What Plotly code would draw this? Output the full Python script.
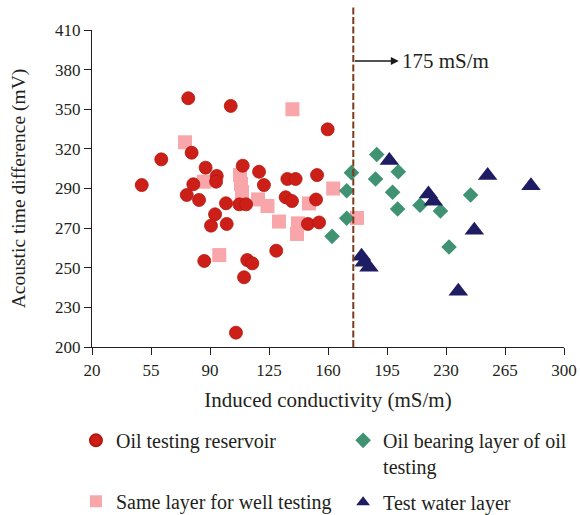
import plotly.graph_objects as go
import numpy as np

# ---- data ----
oil_res_x = [49.5, 77.1, 102.3, 61.1, 79.1, 87.4, 109.4, 119.1, 94.0, 93.6, 80.1, 122.0,
             76.2, 83.5, 99.5, 107.4, 111.4, 93.0, 90.6, 99.9, 86.6, 112.1, 115.1, 110.2,
             105.4, 129.3, 159.8, 135.9, 140.8, 153.5, 134.9, 138.6, 152.9, 148.1, 154.7]
oil_res_y = [307.3, 364.8, 359.7, 324.3, 328.7, 318.8, 320.1, 316.1, 313.3, 309.5, 307.8, 307.3,
             300.7, 297.4, 295.2, 294.5, 294.5, 287.9, 280.4, 281.5, 257.0, 257.6, 255.4, 246.2,
             209.5, 263.8, 344.2, 311.3, 311.3, 313.9, 299.2, 296.7, 297.7, 281.5, 282.5]

same_layer_x = [75.2, 86.4, 107.8, 108.4, 109.0, 118.5, 124.1, 130.9, 95.5, 138.9, 148.7,
                163.1, 142.2, 141.6, 177.2]
same_layer_y = [335.6, 309.5, 313.9, 308.0, 302.7, 297.8, 293.4, 283.1, 260.9, 357.5, 295.1,
                305.0, 281.9, 274.9, 285.5]

oil_bearing_x = [188.9, 173.9, 188.2, 201.7, 171.1, 198.3, 201.3, 171.1, 214.6, 226.7, 162.4,
                 231.8, 244.6]
oil_bearing_y = [327.5, 315.5, 311.3, 316.1, 303.5, 302.5, 291.4, 285.3, 293.9, 290.1, 273.3,
                 266.2, 300.7]

water_x = [196.4, 219.6, 222.5, 254.7, 280.4, 246.8, 237.3, 179.9, 181.4, 184.3]
water_y = [323.5, 301.4, 296.5, 313.6, 306.9, 277.3, 236.9, 260.1, 256.1, 252.8]

x_ticks = [20, 55, 90, 125, 160, 195, 230, 265, 300]
y_tick_labels = ["200", "230", "250", "270", "290", "320", "350", "380", "410"]
threshold = 175
threshold_label = "175 mS/m"

FONT = "Liberation Serif"
INK = "#231F20"

fig = go.Figure()

fig.add_trace(go.Scatter(
    x=same_layer_x, y=same_layer_y, mode="markers", name="Same layer for well testing",
    marker=dict(symbol="square", size=14, color="#F8A6AA", line=dict(width=0)),
    legend="legend", legendgroup="g3", legendrank=2))
fig.add_trace(go.Scatter(
    x=oil_res_x, y=oil_res_y, mode="markers", name="Oil testing reservoir",
    marker=dict(symbol="circle", size=13, color="#CC1F18", line=dict(width=0.8, color="#B5150F")),
    legend="legend", legendgroup="g1", legendrank=1))
fig.add_trace(go.Scatter(
    x=oil_bearing_x, y=oil_bearing_y, mode="markers", name="Oil bearing layer of oil<br>testing",
    marker=dict(symbol="diamond", size=12, color="#3F9372", line=dict(width=0)),
    legend="legend2", legendgroup="g2", legendrank=1))
fig.add_trace(go.Scatter(
    x=water_x, y=water_y, mode="markers", name="Test water layer",
    marker=dict(symbol="triangle-up", size=17, color="#1E1C62", line=dict(width=0)),
    legend="legend2", legendgroup="g4", legendrank=2))

y_lo, y_hi = 200, 410
y_tickvals = list(np.linspace(y_lo, y_hi, len(y_tick_labels)))

fig.add_shape(type="line", xref="x", yref="paper", x0=threshold, x1=threshold, y0=0, y1=1.072,
              line=dict(color="#7A3B1C", width=2, dash="7px,2.5px"))

fig.add_annotation(x=202, y=389.5, ax=threshold, ay=389.5, xref="x", yref="y",
                   axref="x", ayref="y", text="", showarrow=True, arrowhead=2,
                   arrowsize=1, arrowwidth=1.6, arrowcolor="#1a1a1a", standoff=0)
fig.add_annotation(x=202.8, y=389.5, xref="x", yref="y", text=threshold_label,
                   showarrow=False, xanchor="left", yanchor="middle",
                   font=dict(family=FONT, size=21, color=INK))

fig.update_xaxes(range=[20, 300], tickvals=x_ticks, ticks="outside", ticklen=7, tickwidth=1.2,
                 tickcolor=INK, showline=True, linecolor=INK, linewidth=1.2, showgrid=False,
                 zeroline=False, tickfont=dict(family=FONT, size=17, color=INK),
                 title=dict(text="Induced conductivity (mS/m)", font=dict(family=FONT, size=21, color=INK),
                            standoff=13))
fig.update_yaxes(range=[y_lo, y_hi], tickvals=y_tickvals, ticktext=y_tick_labels, ticks="outside",
                 ticklen=7, tickwidth=1.2, tickcolor=INK, showline=True, linecolor=INK, linewidth=1.2,
                 showgrid=False, zeroline=False, tickfont=dict(family=FONT, size=17, color=INK),
                 title=dict(text="Acoustic time difference (mV)", font=dict(family=FONT, size=19.5, color=INK),
                            standoff=24))

legend_common = dict(orientation="v", xanchor="left", yanchor="top", itemsizing="constant",
                     valign="top", traceorder="grouped", bgcolor="rgba(0,0,0,0)",
                     font=dict(family=FONT, size=20, color=INK))

fig.update_layout(
    width=580, height=515, plot_bgcolor="white", paper_bgcolor="white",
    margin=dict(l=92, r=16, t=30, b=168, autoexpand=False),
    showlegend=True,
    legend=dict(x=-0.034, y=-0.233, tracegroupgap=32, **legend_common),
    legend2=dict(x=0.532, y=-0.233, tracegroupgap=7, **legend_common),
)

fig.write_html("out.html")
